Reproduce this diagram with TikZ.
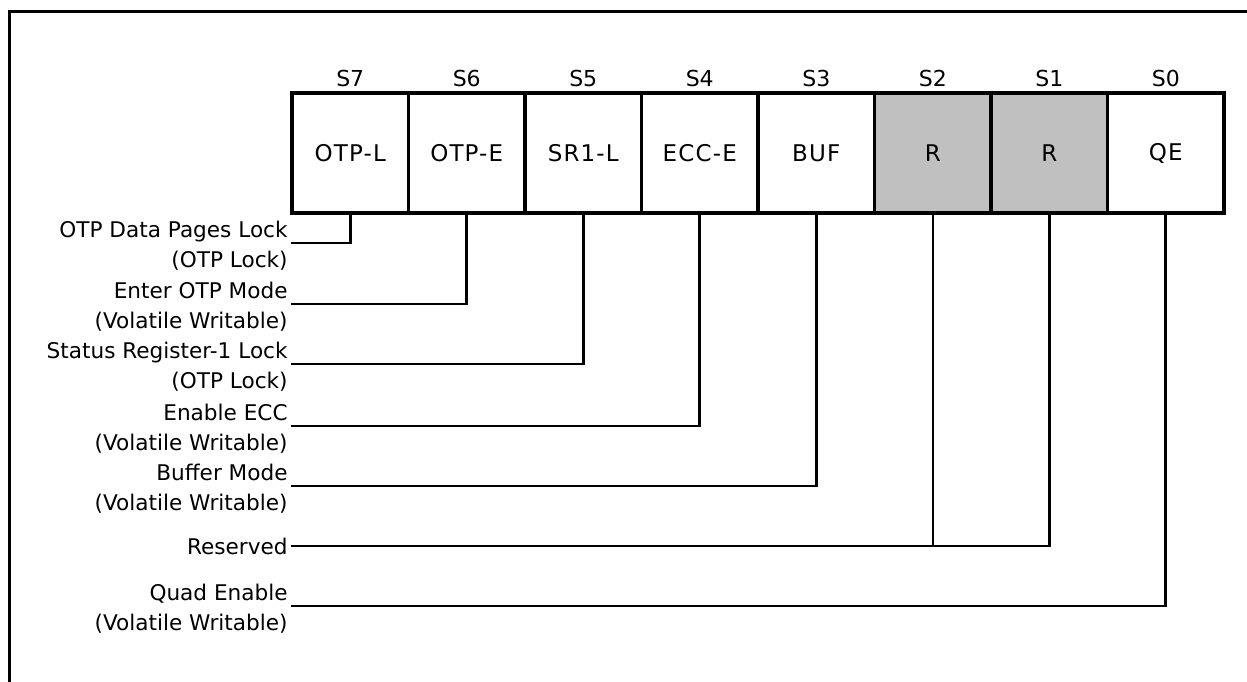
\documentclass[tikz,border=0pt]{standalone}
\usepackage{fontspec}
\setmainfont{DejaVu Sans}
\usepackage{tikz}
\usetikzlibrary{positioning}
\definecolor{resgray}{RGB}{192,192,192}

\begin{document}
\begin{tikzpicture}[x=0.5pt,y=-0.5pt,
    cell/.style={draw,line width=1.6pt,minimum width=58.25pt,minimum height=60pt,
      inner sep=0pt,outer sep=0pt,font=\fontsize{11.5}{13}\selectfont\addfontfeature{LetterSpace=5}},
    bitno/.style={inner sep=0pt,font=\fontsize{11}{13}\selectfont},
    lbl/.style={anchor=base east,inner xsep=1.5pt,inner ysep=0pt,font=\fontsize{10.8}{13}\selectfont},
    wire/.style={line width=1.4pt},
    tap/.style={line width=1.1pt}]
  \useasboundingbox (0,0) rectangle (1247,681);
  \clip (0,0) rectangle (1247,681);
  % frame
  \draw [line width=1.5pt] (9,700) -- (9,11) -- (1260,11);

  % register cells
  \node (c7) [cell,fill=white] at (350.25,153) {OTP-L};
  \foreach \n/\txt/\col [remember=\n as \prev (initially 7)] in
    {6/OTP-E/white,5/SR1-L/white,4/ECC-E/white,3/BUF/white,2/R/resgray,1/R/resgray,0/QE/white}
    \node (c\n) [cell,fill=\col,right=0pt of c\prev] {\txt};
  \draw [line width=2pt] (c7.north west) rectangle (c0.south east);

  % bit numbers
  \foreach \n in {0,...,7}
    \node (s\n) [bitno,above=3pt of c\n] {S\n};

  % descriptions
  \foreach \n/\y/\main/\note in
    {7/237/{OTP Data Pages Lock}/{(OTP Lock)},
     6/298/{Enter OTP Mode}/{(Volatile Writable)},
     5/358/{Status Register-1 Lock}/{(OTP Lock)},
     4/420/{Enable ECC}/{(Volatile Writable)},
     3/480/{Buffer Mode}/{(Volatile Writable)},
     0/600/{Quad Enable}/{(Volatile Writable)}}
  {
    \node (l\n) [lbl] at (291,\y) {\main};
    \node (n\n) [lbl] at (291,\y+30) {\note};
    \draw [wire] ([yshift=-3pt]l\n.base east) -| (c\n.south);
  }

  \node (lr) [lbl] at (291,554) {Reserved};
  \draw [wire] (lr.east) -| (c1.south);
  \draw [tap] (c2.south) -- (c2.south |- lr.east);
\end{tikzpicture}
\end{document}
